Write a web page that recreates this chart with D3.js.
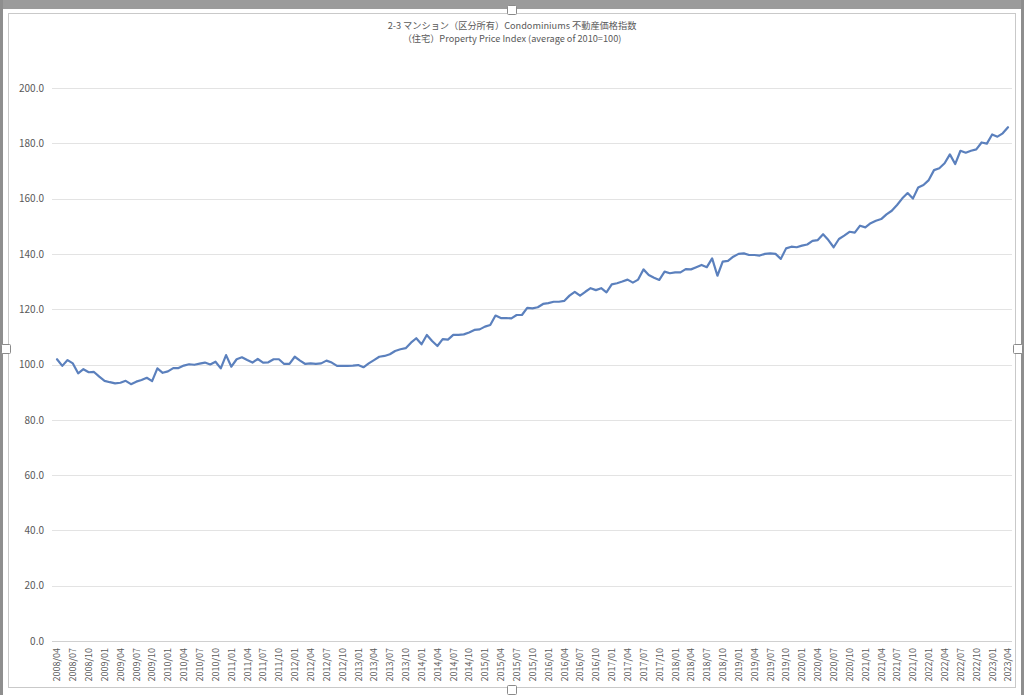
<!DOCTYPE html>
<html><head><meta charset="utf-8">
<script src="https://cdn.jsdelivr.net/npm/d3@7"></script>
<style>
html,body{margin:0;padding:0;background:#fff;}
svg{display:block;}
</style></head>
<body>
<svg id="chart" width="1024" height="695"></svg>
<script>
const titleLines = ["2-3 マンション（区分所有）Condominiums 不動産価格指数", "（住宅）Property Price Index (average of 2010=100)"];
const startYear = 2008, startMonth = 4;
const priceIndex = [
101.9,99.5,101.6,100.4,96.8,98.3,97.2,97.3,95.6,94.1,
93.6,93.2,93.4,94.1,92.9,93.8,94.4,95.2,94.0,98.6,
97.0,97.5,98.7,98.7,99.6,100.1,99.9,100.3,100.7,100.0,
101.0,98.6,103.4,99.2,101.9,102.6,101.6,100.7,102.0,100.7,
100.8,101.9,101.9,100.2,100.2,102.8,101.4,100.2,100.4,100.2,
100.4,101.4,100.7,99.5,99.5,99.5,99.6,99.8,99.0,100.4,
101.6,102.8,103.1,103.7,104.9,105.5,105.9,107.9,109.5,107.3,
110.7,108.5,106.7,109.2,109.0,110.7,110.7,110.9,111.6,112.5,
112.7,113.7,114.3,117.7,116.8,116.8,116.7,117.9,117.9,120.5,
120.3,120.7,121.9,122.2,122.7,122.7,123.0,124.9,126.3,124.9,
126.3,127.6,126.9,127.6,126.1,129.0,129.4,130.0,130.7,129.6,
130.7,134.4,132.4,131.4,130.6,133.6,133.0,133.3,133.3,134.5,
134.4,135.2,136.0,135.2,138.4,132.1,137.2,137.5,139.0,140.0,
140.2,139.6,139.6,139.4,140.0,140.2,140.0,138.2,142.0,142.6,
142.4,143.0,143.4,144.7,145.0,147.1,145.0,142.4,145.4,146.6,
148.0,147.7,150.2,149.6,151.1,152.0,152.6,154.3,155.6,157.7,
160.1,162.0,160.0,164.0,164.9,166.7,170.3,171.0,172.8,176.0,
172.5,177.3,176.6,177.3,177.8,180.3,179.9,183.2,182.4,183.6,
185.8
];
const xTickLabels = [
"2008/04","2008/07","2008/10","2009/01","2009/04","2009/07","2009/10","2010/01","2010/04","2010/07","2010/10",
"2011/01","2011/04","2011/07","2011/10","2012/01","2012/04","2012/07","2012/10","2013/01","2013/04","2013/07","2013/10",
"2014/01","2014/04","2014/07","2014/10","2015/01","2015/04","2015/07","2015/10","2016/01","2016/04","2016/07","2016/10",
"2017/01","2017/04","2017/07","2017/10","2018/01","2018/04","2018/07","2018/10","2019/01","2019/04","2019/07","2019/10",
"2020/01","2020/04","2020/07","2020/10","2021/01","2021/04","2021/07","2021/10","2022/01","2022/04","2022/07","2022/10",
"2023/01","2023/04"
];
const yTicks = [0,20,40,60,80,100,120,140,160,180,200];

// month labels for every data point
const months = priceIndex.map((d,i)=>{
  const m = startMonth - 1 + i;
  const y = startYear + Math.floor(m/12);
  const mm = (m % 12) + 1;
  return y + "/" + String(mm).padStart(2,"0");
});
const data = priceIndex.map((v,i)=>({label:months[i], value:v}));

const svg = d3.select("#chart");
const W = 1024, H = 695;
const font = "'Noto Sans CJK JP','Noto Sans','Liberation Sans',sans-serif";
const textColor = "#595959";

// window chrome
svg.append("rect").attr("x",0).attr("y",0).attr("width",W).attr("height",H).attr("fill","#ffffff");
svg.append("rect").attr("x",0).attr("y",0).attr("width",W).attr("height",9).attr("fill","#9b9b9b");
svg.append("rect").attr("x",0).attr("y",0).attr("width",3).attr("height",H).attr("fill","#8e8e8e");
svg.append("rect").attr("x",W-3).attr("y",0).attr("width",3).attr("height",H).attr("fill","#8e8e8e");
svg.append("rect").attr("x",8.5).attr("y",13.5).attr("width",1007).attr("height",674)
  .attr("fill","none").attr("stroke","#c9c9c9").attr("stroke-width",1);
[[512,10],[6,349],[1018,349],[512,690]].forEach(([cx,cy])=>{
  svg.append("rect").attr("x",cx-4.5).attr("y",cy-4.5).attr("width",9).attr("height",9)
    .attr("fill","#fff").attr("stroke","#8a8a8a").attr("stroke-width",1).attr("rx",1);
});

const x = d3.scaleLinear().domain([0, priceIndex.length-1]).range([57, 1008]);
const y = d3.scaleLinear().domain([0, 200]).range([641, 88]);
const xBand = d3.scalePoint().domain(months).range([57,1008]);

// gridlines
const grid = svg.append("g");
grid.selectAll("line").data(yTicks).join("line")
  .attr("x1",52).attr("x2",1012)
  .attr("y1",d=>Math.round(y(d))+0.5).attr("y2",d=>Math.round(y(d))+0.5)
  .attr("stroke",d=>d===0?"#d0d0d0":"#e3e3e3").attr("stroke-width",1);

// y axis labels
const yAxis = d3.axisLeft(y).tickValues(yTicks).tickFormat(d3.format(".1f")).tickSize(0).tickPadding(0);
const yg = svg.append("g").attr("transform","translate(44,0)").call(yAxis);
yg.select(".domain").remove();
yg.selectAll("text").attr("fill",textColor).attr("font-family",font).attr("font-size","10px");

// x axis labels (rotated)
const xAxis = d3.axisBottom(xBand).tickValues(xTickLabels).tickSize(0).tickPadding(0);
const xg = svg.append("g").attr("transform","translate(0,641)").call(xAxis);
xg.select(".domain").remove();
xg.selectAll("text")
  .attr("fill",textColor).attr("font-family",font).attr("font-size","9px")
  .attr("transform","rotate(-90)")
  .attr("text-anchor","end").attr("x",-7).attr("y",0).attr("dy","0.32em");

// line
const line = d3.line().x((d,i)=>x(i)).y(d=>y(d.value));
svg.append("path").datum(data).attr("d",line)
  .attr("fill","none").attr("stroke","#5b80bd").attr("stroke-width",2.2)
  .attr("stroke-linejoin","round").attr("stroke-linecap","round");

// title
svg.append("g").selectAll("text").data(titleLines).join("text")
  .attr("x",512).attr("y",(d,i)=>29+i*13)
  .attr("text-anchor","middle").attr("fill",textColor)
  .attr("font-family",font).attr("font-size","9.2px").text(d=>d);
</script>
</body></html>
